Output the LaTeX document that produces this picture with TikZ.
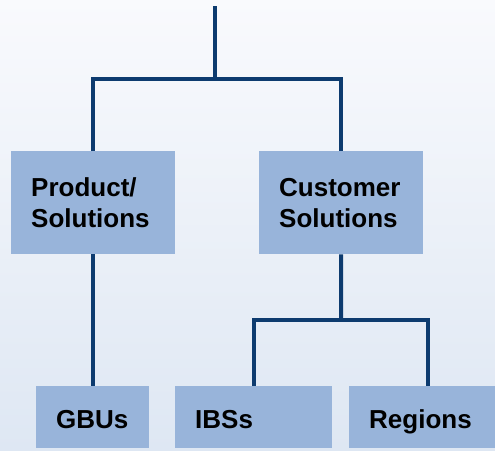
\documentclass[tikz,border=0pt]{standalone}
\usepackage{fontspec}
\setmainfont{Liberation Sans}
\begin{document}
\begin{tikzpicture}[x=1pt,y=-1pt,
  unitbox/.style={fill=boxblue, draw=none, anchor=north west, inner xsep=20pt, inner ysep=0pt,
    align=left, font=\fontsize{26}{31}\selectfont\bfseries, text=black},
  lowbox/.style={unitbox, minimum height=62pt, text height=22pt, text depth=0pt},
  link/.style={draw=linknavy, line width=4pt, line join=miter}]
\definecolor{boxblue}{HTML}{98B4DA}
\definecolor{linknavy}{HTML}{0D3B6F}
\definecolor{bgtop}{HTML}{F9FAFD}
\definecolor{bgbottom}{HTML}{DEE7F3}
\useasboundingbox (0,0) rectangle (495,450);
\clip (0,0) rectangle (495,450);
\shade[top color=bgtop, bottom color=bgbottom] (0,0) rectangle (495,450);

% units
\node[unitbox, text width=124pt, minimum height=103pt] (ps) at (11,151) {Product/\\Solutions};
\node[unitbox, text width=124pt, minimum height=103pt] (cs) at (259,151) {Customer\\Solutions};
\node[lowbox, text width=73pt] (gbu) at (36,386) {GBUs};
\node[lowbox, text width=117pt] (ibs) at (175,386) {IBSs};
\node[lowbox, text width=118pt] (reg) at (349,386) {Regions};

% junction points
\coordinate (top) at (214.5,6);
\coordinate (j1) at (214.5,78.5);
\coordinate (j2) at (341,320);

% connectors
\draw[link] (top) -- (j1);
\draw[link] (ps.north) |- (j1) -| (cs.north);
\draw[link] (ps.south) -- (ps.south |- gbu.north);
\draw[link] (cs.south) -- (j2);
\draw[link] (ibs.north) |- (j2) -| (reg.north);
\end{tikzpicture}
\end{document}
